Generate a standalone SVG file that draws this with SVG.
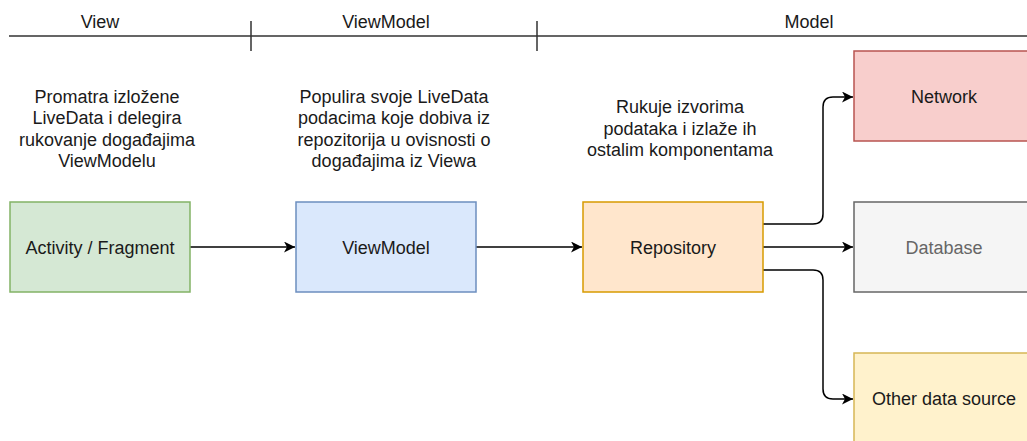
<svg xmlns="http://www.w3.org/2000/svg" width="1027" height="441" viewBox="0 0 1027 441">
<style>
text{font-family:"Liberation Sans",Arial,Helvetica,sans-serif;font-size:18px;fill:#1a1a1a;text-anchor:middle}
.box{stroke-width:1.5}
.conn{fill:none;stroke:#000;stroke-width:1.5}
.axis{fill:none;stroke:#333;stroke-width:1.5}
</style>
<defs>
<marker id="arr" markerUnits="userSpaceOnUse" markerWidth="12" markerHeight="12" refX="11" refY="5.5" orient="auto" viewBox="0 0 12 12">
<path d="M0,0 L11,5.5 L0,11 L3,5.5 Z" fill="#000"/>
</marker>
</defs>
<rect width="1027" height="441" fill="#fff"/>
<g id="axis">
<path class="axis" d="M9,36 H1027 M251,21 V51 M537,21 V51"/>
<text x="100" y="28">View</text>
<text x="386" y="28">ViewModel</text>
<text x="809" y="28">Model</text>
</g>
<g id="desc-view">
<text x="107" y="102.5">Promatra izložene</text>
<text x="107" y="124.1">LiveData i delegira</text>
<text x="107" y="145.7">rukovanje događajima</text>
<text x="107" y="167.3">ViewModelu</text>
</g>
<g id="desc-viewmodel">
<text x="394" y="102.5">Populira svoje LiveData</text>
<text x="394" y="124.1">podacima koje dobiva iz</text>
<text x="394" y="145.7">repozitorija u ovisnosti o</text>
<text x="394" y="167.3">događajima iz Viewa</text>
</g>
<g id="desc-model">
<text x="680" y="113">Rukuje izvorima</text>
<text x="680" y="134.6">podataka i izlaže ih</text>
<text x="680" y="156.2">ostalim komponentama</text>
</g>
<g id="connectors">
<path class="conn" marker-end="url(#arr)" d="M190,247 H295"/>
<path class="conn" marker-end="url(#arr)" d="M476,247 H582"/>
<path class="conn" marker-end="url(#arr)" d="M763,224 H813 Q823,224 823,214 V107 Q823,97 833,97 H853"/>
<path class="conn" marker-end="url(#arr)" d="M763,247 H853"/>
<path class="conn" marker-end="url(#arr)" d="M763,270 H813 Q823,270 823,280 V389 Q823,399 833,399 H853"/>
</g>
<g id="activity">
<rect class="box" x="10" y="202" width="180" height="90" fill="#d5e8d4" stroke="#82b366"/>
<text x="100" y="253.5">Activity / Fragment</text>
</g>
<g id="viewmodel">
<rect class="box" x="296" y="202" width="180" height="90" fill="#dae8fc" stroke="#6c8ebf"/>
<text x="386" y="253.5">ViewModel</text>
</g>
<g id="repository">
<rect class="box" x="583" y="202" width="180" height="90" fill="#ffe6cc" stroke="#d79b00"/>
<text x="673" y="253.5">Repository</text>
</g>
<g id="network">
<rect class="box" x="854" y="51" width="180" height="90" fill="#f8cecc" stroke="#b85450"/>
<text x="944" y="102.5">Network</text>
</g>
<g id="database">
<rect class="box" x="854" y="202" width="180" height="90" fill="#f5f5f5" stroke="#666666"/>
<text x="944" y="253.5" style="fill:#666">Database</text>
</g>
<g id="other">
<rect class="box" x="854" y="353" width="180" height="90" fill="#fff2cc" stroke="#d6b656"/>
<text x="944" y="404.5">Other data source</text>
</g>
</svg>
